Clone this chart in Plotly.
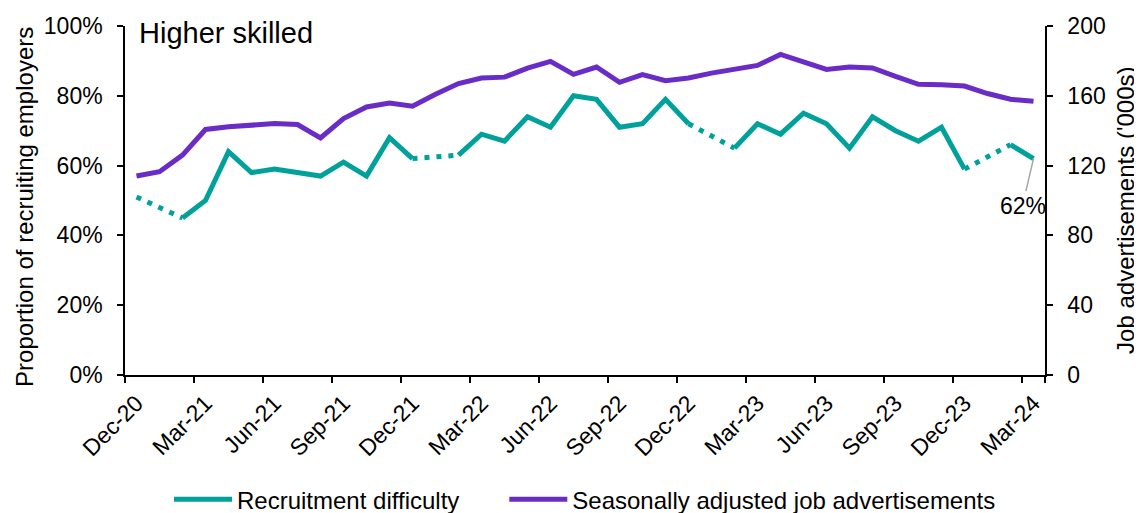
import plotly.graph_objects as go

months = ["Dec-20",
          "Jan-21", "Feb-21", "Mar-21", "Apr-21", "May-21", "Jun-21",
          "Jul-21", "Aug-21", "Sep-21", "Oct-21", "Nov-21", "Dec-21",
          "Jan-22", "Feb-22", "Mar-22", "Apr-22", "May-22", "Jun-22",
          "Jul-22", "Aug-22", "Sep-22", "Oct-22", "Nov-22", "Dec-22",
          "Jan-23", "Feb-23", "Mar-23", "Apr-23", "May-23", "Jun-23",
          "Jul-23", "Aug-23", "Sep-23", "Oct-23", "Nov-23", "Dec-23",
          "Jan-24", "Feb-24", "Mar-24"]

recruitment_difficulty = [51, None, 45, 50, 64, 58, 59, 58, 57, 61, 57, 68, 62,
                          None, 63, 69, 67, 74, 71, 80, 79, 71, 72, 79, 72,
                          None, 65, 72, 69, 75, 72, 65, 74, 70, 67, 71, 59,
                          None, 66, 62]

job_ads = [114, 116.5, 126, 140.7, 142.2, 143.5, 144.1, 143.5, 135.9, 147,
           153.6, 155.9, 154, 160.9, 167, 170.2, 170.7, 175.9, 179.7, 172.3,
           176.5, 167.7, 172.1, 168.7, 170.2, 173, 175.5, 177.4, 183.7, 179.7,
           175.1, 176.5, 176, 171.1, 166.6, 166.4, 165.6, 161.3, 158, 156.9]

tick_labels = months[::3]
left_ticks = [0, 20, 40, 60, 80, 100]
right_ticks = [0, 40, 80, 120, 160, 200]

TEAL = "#00A19A"
PURPLE = "#6A2CC6"
FONT = "Arial, Liberation Sans, sans-serif"
NBSP = "\u00a0"

# dotted segments bridging missing months
gap_x, gap_y = [], []
for i, v in enumerate(recruitment_difficulty):
    if v is None and 0 < i < len(recruitment_difficulty) - 1:
        gap_x += [months[i - 1], months[i + 1], None]
        gap_y += [recruitment_difficulty[i - 1], recruitment_difficulty[i + 1], None]

fig = go.Figure()

fig.add_trace(go.Scatter(
    x=gap_x, y=gap_y, mode="lines", showlegend=False, hoverinfo="skip",
    line=dict(color=TEAL, width=5, dash="5px,7px"), yaxis="y"))

fig.add_trace(go.Scatter(
    x=months, y=recruitment_difficulty, mode="lines",
    name="Recruitment difficulty" + NBSP * 6,
    line=dict(color=TEAL, width=5), connectgaps=False, yaxis="y"))

fig.add_trace(go.Scatter(
    x=months, y=job_ads, mode="lines", name="Seasonally adjusted job advertisements",
    line=dict(color=PURPLE, width=5), yaxis="y2"))

fig.add_annotation(
    x=months[-1], y=recruitment_difficulty[-1], xref="x", yref="y",
    text="62%", showarrow=True, arrowhead=0, arrowwidth=1.5, arrowcolor="#A6A6A6",
    ax=-11, ay=47, font=dict(size=23, color="black", family=FONT), standoff=0)

fig.add_annotation(
    x=0.0125, y=0.979, xref="paper", yref="paper", xanchor="left", yanchor="middle",
    text="Higher skilled", showarrow=False,
    font=dict(size=29, color="black", family=FONT))

fig.add_annotation(
    x=-0.11, y=0.481, xref="paper", yref="paper", xanchor="center", yanchor="middle",
    text="Proportion of recruiting employers", textangle=-90, showarrow=False,
    font=dict(size=24, color="black", family=FONT))

fig.add_annotation(
    x=1.088, y=0.473, xref="paper", yref="paper", xanchor="center", yanchor="middle",
    text="Job advertisements ('000s)", textangle=-90, showarrow=False,
    font=dict(size=24, color="black", family=FONT))

# page body has an 8px default margin: size and offset the figure to compensate
fig.update_layout(
    width=1134, height=505,
    margin=dict(l=117, r=97, t=17.5, b=137.5, autoexpand=False),
    plot_bgcolor="white", paper_bgcolor="white",
    font=dict(family=FONT, size=23, color="black"),
    xaxis=dict(
        type="category", categoryorder="array", categoryarray=months,
        range=[-0.5, len(months) - 0.5], automargin=False,
        tickmode="array", tickvals=tick_labels, ticktext=tick_labels,
        tickson="boundaries", ticks="outside", ticklen=6, tickwidth=1.5,
        tickcolor="black", tickangle=-45, ticklabelstandoff=4,
        showline=True, linecolor="black", linewidth=1.5,
        showgrid=False, zeroline=False, tickfont=dict(size=23)),
    yaxis=dict(
        range=[0, 100], tickmode="array", tickvals=left_ticks,
        ticktext=[f"{v}%" for v in left_ticks], automargin=False,
        ticks="outside", ticklen=6, tickwidth=1.5, tickcolor="black",
        ticklabelstandoff=10,
        showline=True, linecolor="black", linewidth=1.5,
        showgrid=False, zeroline=False, tickfont=dict(size=23)),
    yaxis2=dict(
        range=[0, 200], tickmode="array", tickvals=right_ticks,
        ticktext=[str(v) for v in right_ticks], automargin=False,
        overlaying="y", side="right",
        ticks="outside", ticklen=6, tickwidth=1.5, tickcolor="black",
        ticklabelstandoff=10,
        showline=True, linecolor="black", linewidth=1.5,
        showgrid=False, zeroline=False, tickfont=dict(size=23)),
    legend=dict(orientation="h", x=0.5, xanchor="center", y=-0.357, yanchor="middle",
                font=dict(size=24), traceorder="normal", itemwidth=58),
    showlegend=True,
)

fig.write_html("out.html")
